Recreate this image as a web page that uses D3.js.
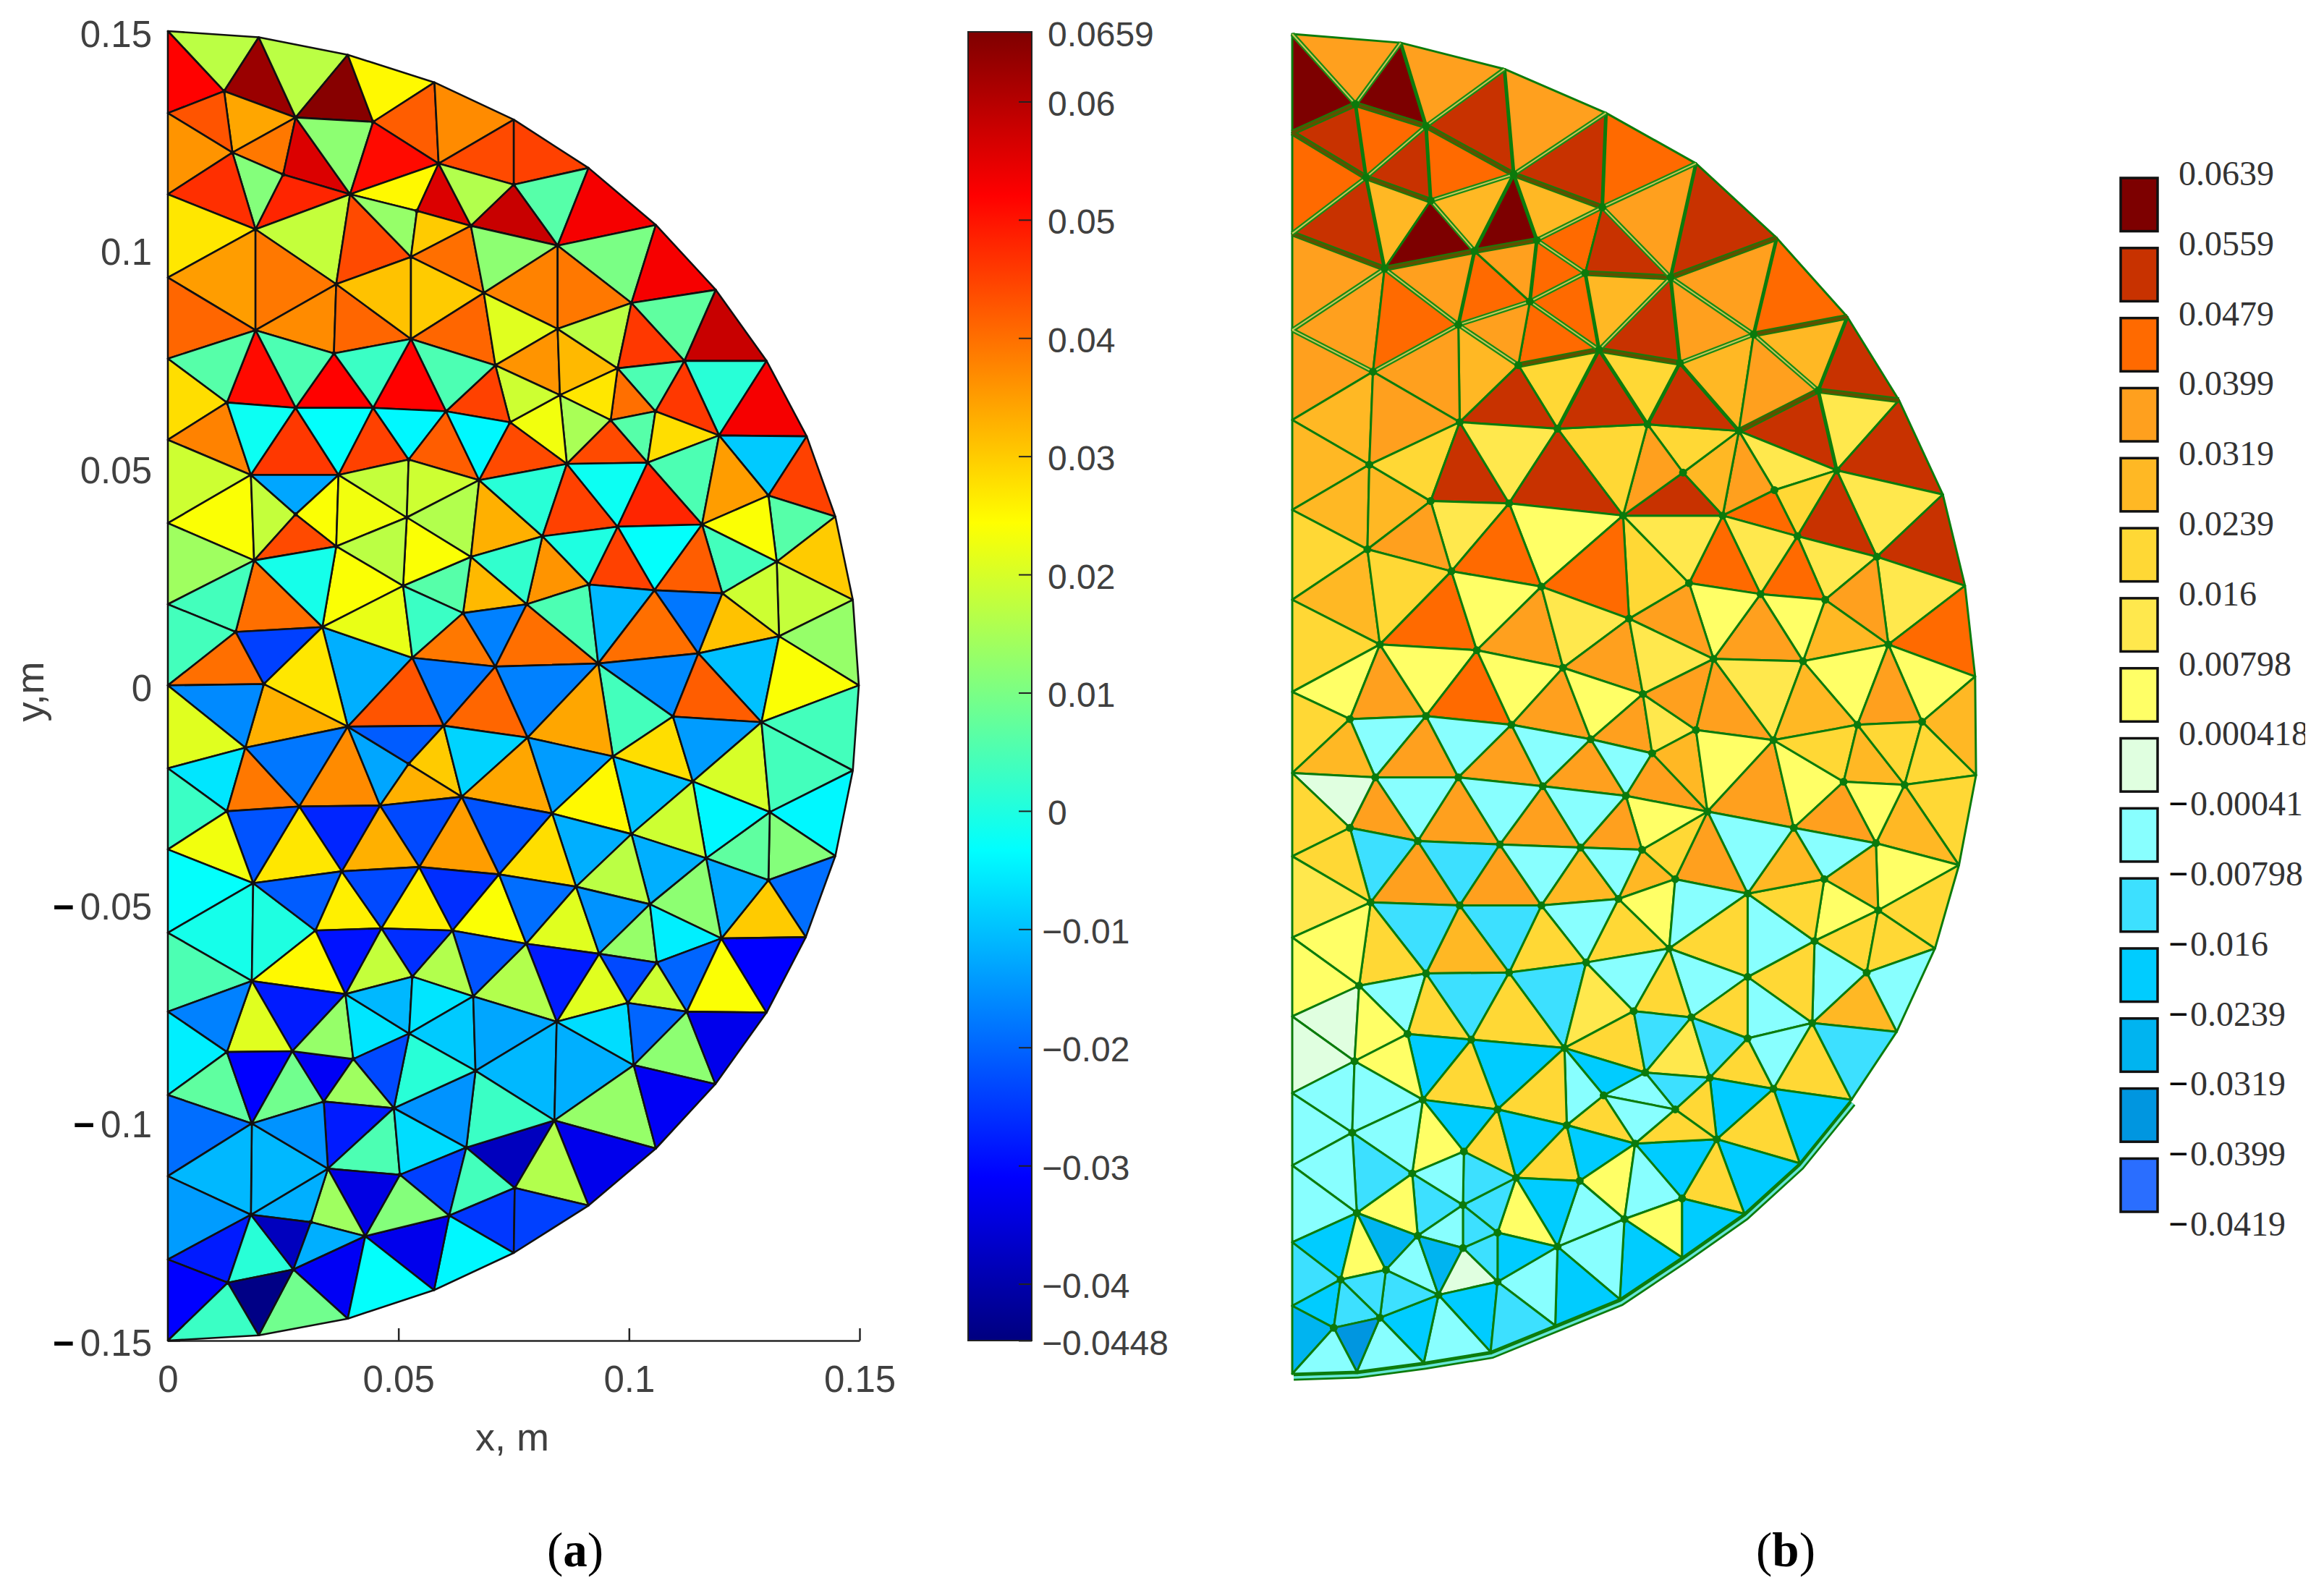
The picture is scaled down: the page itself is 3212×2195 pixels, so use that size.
<!DOCTYPE html>
<html>
<head>
<meta charset="utf-8">
<script src="https://cdn.jsdelivr.net/npm/d3@7"></script>
<style>
body { margin: 0; background: #fff; }
text { font-family: "Liberation Sans", Arial, sans-serif; }
</style>
</head>
<body>
<script>
// node positions are in tenths of a mm
var nodesA = {
	L0:[0,1492],L1:[0,1305],L2:[0,1120],L3:[0,930],L4:[0,745],L5:[0,560],L6:[0,370],L7:[0,185],L8:[0,0],
	L9:[0,-189],L10:[0,-374],L11:[0,-564],L12:[0,-744],L13:[0,-934],L14:[0,-1119],L15:[0,-1309],L16:[0,-1494],
	R1:[197,1478],R2:[390,1438],R3:[578,1375],R4:[750,1290],R5:[912,1180],R6:[1058,1050],R7:[1188,902],R8:[1298,740],
	R9:[1385,568],R10:[1447,385],R11:[1485,195],R12:[1498,0],R13:[1485,-194],R14:[1447,-389],R15:[1383,-574],R16:[1298,-746],
	R17:[1187,-909],R18:[1058,-1056],R19:[912,-1186],R20:[750,-1294],R21:[577,-1379],R22:[390,-1444],R23:[197,-1482],
	A1:[122,1355],A2:[277,1295],A3:[445,1285],A4:[140,1215],A5:[250,1165],A6:[587,1190],A7:[395,1120],A8:[750,1142],
	A9:[540,1082],A10:[657,1048],A11:[845,1003],A12:[190,1040],A13:[527,977],A14:[365,915],A15:[685,895],A16:[1005,872],
	A17:[190,810],A18:[527,790],A19:[845,813],A20:[360,757],A21:[710,730],A22:[1120,740],A23:[975,723],A24:[128,645],
	A25:[277,633],A26:[445,633],A27:[603,625],A28:[850,662],A29:[742,600],A30:[960,605],A31:[1057,625],A32:[1195,570],
	A33:[180,480],A34:[370,480],A35:[522,515],A36:[675,468],A37:[865,505],A38:[1040,508],A39:[277,390],A40:[518,383],
	A41:[1302,433],A42:[812,340],A43:[975,362],A44:[1158,367],A45:[187,285],A46:[365,317],A47:[657,293],A48:[1320,282],
	A49:[510,227],A50:[913,230],A51:[1055,217],A52:[1202,210],A53:[147,122],A54:[335,133],A55:[640,165],A56:[778,185],
	A57:[1325,112],A58:[530,63],A59:[710,43],A60:[933,50],A61:[1150,73],A62:[208,3],
	B1:[390,-94],B2:[598,-92],B3:[780,-119],B4:[965,-162],B5:[1095,-71],B6:[1287,-84],B7:[168,-142],B8:[522,-179],
	B9:[637,-254],B10:[1138,-219],B11:[128,-287],B12:[285,-276],B13:[460,-274],B14:[833,-292],B15:[1005,-339],B16:[1305,-289],
	B17:[185,-451],B18:[377,-424],B19:[545,-414],B20:[718,-431],B21:[885,-459],B22:[1167,-394],B23:[1302,-444],B24:[1045,-499],
	B25:[320,-559],B26:[463,-554],B27:[617,-559],B28:[777,-589],B29:[935,-612],B30:[1060,-632],B31:[1200,-577],B32:[182,-674],
	B33:[530,-664],B34:[385,-704],B35:[662,-709],B36:[843,-767],B37:[997,-724],B38:[1125,-744],B39:[523,-794],B40:[128,-836],
	B41:[270,-834],B42:[402,-852],B43:[667,-879],B44:[1010,-866],B45:[338,-949],B46:[490,-964],B47:[182,-999],B48:[838,-992],
	B49:[647,-1054],B50:[347,-1102],B51:[503,-1116],B52:[752,-1146],B53:[610,-1209],B54:[180,-1207],B55:[310,-1224],B56:[428,-1256],
	B57:[272,-1332],B58:[130,-1362]
};

// three node ids and the cell value
var trisA = [
	"L0 R1 A1 .017","L0 A1 L1 .052","R1 A2 A1 .063","R1 R2 A2 .017","R2 A3 A2 .065","R2 R3 A3 .025","R3 A6 A3 .042","R3 R4 A6 .037",
	"R4 A8 A6 .044","R4 R5 A8 .045","R5 A11 A8 .006","R5 R6 A11 .053","R6 A16 A11 .010","R6 R7 A16 .053","R7 A22 A16 .007","R7 R8 A22 .058",
	"R8 A32 A22 .001","R8 R9 A32 .053","R9 A41 A32 -.009","R9 R10 A41 .045","R10 A48 A41 .006","R10 R11 A48 .030","R11 A57 A48 .018","R11 R12 A57 .013",
	"A1 A2 A4 .034","L1 A1 A4 .043","L1 A4 L2 .036","A2 A5 A4 .039","A2 A7 A5 .056","A2 A3 A7 .012","A3 A6 A7 .051","A6 A9 A7 .025",
	"A6 A10 A9 .056","A6 A8 A10 .016","A8 A11 A10 .058","A4 A5 A12 .011","L2 A4 A12 .047","A5 A7 A12 .048","L2 A12 L3 .027","A12 A7 A14 .018",
	"A7 A13 A14 .044","A7 A9 A13 .013","A9 A10 A13 .030","A10 A15 A13 .040","A10 A11 A15 .012","A11 A19 A15 .038","A11 A16 A19 .039",
	"L3 A12 A17 .035","A12 A14 A17 .039","L3 A17 L4 .041","A17 A14 A20 .037","A14 A18 A20 .041","A14 A13 A18 .031","A13 A15 A18 .030",
	"A15 A21 A18 .041","A15 A19 A21 .021","A19 A28 A21 .036","A19 A23 A28 .032","A19 A16 A23 .017","A16 A22 A23 .046","A22 A31 A23 .005","A22 A32 A31 .046",
	"A23 A31 A30 .040","A23 A30 A28 .027","A28 A30 A37 .015","A28 A37 A29 .023","A21 A28 A29 .019","A21 A29 A27 .045","A18 A21 A27 .005","A18 A27 A26 .052",
	"A20 A18 A26 .003","A20 A26 A25 .052","A17 A20 A25 .005","A17 A25 A24 .051","L4 A17 A24 .006","L4 A24 L5 .028","L5 A24 A33 .038","A24 A25 A33 -.002",
	"A25 A34 A33 .046","A25 A26 A34 -.003","A26 A35 A34 .045","A26 A27 A35 -.004","A27 A36 A35 .042","A27 A29 A36 -.004","A29 A37 A36 .044",
	"A30 A38 A37 .044","A30 A31 A38 .006","A31 A32 A38 .028","A32 A44 A38 .005","A32 A41 A44 .035","A41 A48 A44 .024","A44 A48 A52 .004","A48 A57 A52 .019",
	"A52 A57 A61 .031","A61 A57 B6 -.010","A57 R12 B6 .024","B6 R12 R13 .004","L5 A33 L6 .019","L6 A33 A45 .024","A33 A39 A45 .018","A33 A34 A39 -.013",
	"A34 A46 A39 .024","A39 A46 A45 .044","A34 A40 A46 .023","A34 A35 A40 .018","A35 A36 A40 .019","A36 A47 A40 .016","A36 A42 A47 .033","A36 A37 A42 .001",
	"A37 A43 A42 .045","A37 A38 A43 -.002","A38 A44 A43 .048","A43 A44 A51 -.003","A44 A52 A51 .042","A43 A51 A50 .045","A42 A43 A50 .000","A42 A50 A56 .036",
	"A47 A42 A56 .002","A47 A56 A55 .032","A49 A47 A55 .006","A40 A47 A49 .024","A46 A40 A49 .017","A46 A49 A54 .024","A45 A46 A54 -.001","A45 A54 A53 .040",
	"L6 A45 L7 .014","L7 A45 A53 .004","L7 A53 L8 .004","L8 A53 A62 .040","A53 A54 A62 -.024","A54 A58 B1 -.012","A54 B1 A62 .027","A49 A58 A54 .022",
	"A49 A55 A58 .003","A55 A59 A58 .039","A55 A56 A59 -.017","A56 A60 A59 .040","A56 A50 A60 .005","A50 A51 A60 -.011","A51 A61 A60 .040","A51 A52 A61 -.018",
	"A60 A61 B5 -.016","A60 B5 B4 .004","A61 B6 B5 .042","A58 A59 B2 -.018","A58 B2 B1 .043","A59 B3 B2 .041","A59 A60 B3 -.017","A60 B4 B3 .034",
	"A62 B1 B7 .033","L8 A62 B7 -.016","L8 B7 L9 .021","L9 B7 B11 -.006","L9 B11 L10 .003","B7 B12 B11 .039","B7 B1 B12 -.018","B1 B13 B12 .037",
	"B1 B8 B13 -.013","B1 B2 B8 -.021","B2 B9 B8 .030","B8 B9 B13 .033","B2 B3 B9 -.008","B3 B14 B9 .034","B3 B4 B14 -.014","B4 B15 B14 .025",
	"B4 B10 B15 -.010","B4 B5 B10 .028","B5 B6 B10 -.014","B6 B16 B10 .020","B6 R13 B16 .004","R13 R14 B16 -.004","B16 R14 B23 .011","B16 B23 B22 .007",
	"B10 B16 B22 -.004","B10 B22 B15 .019","R14 R15 B23 -.019","B23 R15 B31 .030","B22 B23 B31 -.013","B22 B31 B24 .012","B15 B22 B24 -.012","B14 B15 B21 -.012",
	"B15 B24 B21 .017","B14 B21 B20 .028","B9 B14 B20 -.022","B9 B20 B19 .035","B13 B9 B19 -.023","B13 B19 B18 .033","B12 B13 B18 -.027","B12 B18 B17 .027",
	"B11 B12 B17 -.022","L10 B11 B17 .023","L10 B17 L11 -.003","L11 B17 B32 -.001","L11 B32 L12 .005","B17 B25 B32 .000","B17 B18 B25 -.021","B18 B26 B25 .026",
	"B18 B19 B26 -.023","B19 B27 B26 .026","B19 B20 B27 -.026","B20 B28 B27 .024","B20 B21 B28 -.019","B21 B29 B28 .021","B21 B24 B29 -.015","B24 B30 B29 .013",
	"B24 B31 B30 -.005","B31 B38 B30 -.020","B31 R16 B38 .024","B31 R15 R16 -.031","B30 B38 B37 .019","B29 B30 B37 -.023","B29 B37 B36 .021","B28 B29 B36 -.028",
	"B28 B36 B35 .016","B27 B28 B35 -.022","B27 B35 B33 .016","B26 B27 B33 -.026","B26 B33 B34 .018","B25 B26 B34 -.029","B25 B34 B32 .025","B32 B34 B41 -.028",
	"B32 B41 B40 .021","L12 B32 B40 -.017","L12 B40 L13 -.005","L13 B40 B47 .007","B40 B41 B47 -.031","B41 B45 B47 .009","B41 B42 B45 -.032","B41 B34 B42 .013",
	"B34 B39 B42 -.006","B34 B33 B39 -.011","B33 B35 B39 -.006","B35 B43 B39 -.009","B35 B36 B43 -.013","B36 B48 B43 -.011","B36 B44 B48 -.012","B36 B37 B44 -.007",
	"B37 B38 B44 -.020","B38 R17 B44 .012","B38 R16 R17 -.033","B44 R18 B48 .013","B44 R17 R18 -.032","B48 R18 R19 -.033","B48 R19 B52 .016","B49 B48 B52 -.038",
	"B43 B48 B49 .003","B46 B43 B49 -.015","B39 B43 B46 .001","B42 B39 B46 -.023","B42 B46 B45 .014","B45 B46 B50 -.028","B46 B51 B50 .005","B46 B49 B51 -.007",
	"B49 B53 B51 -.024","B49 B52 B53 .004","B52 R20 B53 -.025","B52 R19 R20 -.024","B53 R20 R21 -.004","B53 R21 B56 -.033","B51 B53 B56 .011","B50 B51 B56 -.034",
	"B50 B56 B55 .014","B50 B55 B54 -.012","B47 B50 B54 -.011","B47 B45 B50 -.015","L13 B47 L14 -.019","L14 B47 B54 -.011","L14 B54 L15 -.014","L15 B54 B58 -.028",
	"B54 B57 B58 .001","B54 B55 B57 -.038","B55 B56 B57 -.012","B56 R22 B57 -.032","B56 R21 R22 -.003","B57 R22 R23 .009","B58 B57 R23 -.044","L15 B58 L16 -.031",
	"L16 B58 R23 .003"
];

var nodesB = {
	P0:[0,1532],P1:[0,1307],P2:[0,1077],P3:[0,857],P4:[0,652],P5:[0,447],P6:[0,242],P7:[0,32],P8:[0,-153],
	P9:[0,-343],P10:[0,-528],P11:[0,-708],P12:[0,-883],P13:[0,-1048],P14:[0,-1223],P15:[0,-1368],P16:[0,-1523],
	Q1:[235,1512],Q2:[460,1452],Q3:[680,1352],Q4:[875,1237],Q5:[1050,1067],Q6:[1203,887],Q7:[1315,697],Q8:[1410,482],
	Q9:[1458,274],Q10:[1480,67],Q11:[1482,-158],Q12:[1445,-363],Q13:[1393,-553],Q14:[1310,-743],Q15:[1212,-898],Q16:[1100,-1043],
	Q17:[980,-1158],Q18:[845,-1258],Q19:[710,-1353],Q20:[570,-1413],Q21:[430,-1473],Q22:[285,-1498],Q23:[140,-1518],
	C1:[137,1372],C2:[290,1322],C3:[480,1212],C4:[160,1205],C5:[300,1152],C6:[672,1137],C7:[395,1037],C8:[530,1062],
	C9:[200,997],C10:[820,977],C11:[635,987],C12:[515,922],C13:[360,869],C14:[1000,847],C15:[665,812],C16:[175,762],
	C17:[840,782],C18:[490,777],C19:[1140,719],C20:[363,647],C21:[575,632],C22:[770,642],C23:[968,627],C25:[167,550],
	C26:[847,532],C27:[1180,537],C28:[300,467],C29:[470,462],C30:[717,434],C31:[933,434],C32:[1045,492],C33:[1095,387],
	C34:[163,357],C35:[345,307],C36:[1267,340],C37:[540,272],C38:[860,280],C39:[1015,255],C40:[730,199],C41:[1155,242],
	C42:[190,140],C43:[400,127],C44:[1292,140],C45:[913,107],C46:[1107,102],C47:[587,87],C48:[760,27],
	D1:[125,-30],D2:[290,-23],D3:[475,-43],D4:[647,-76],D5:[780,-108],D6:[875,-55],D7:[1043,-78],D8:[1225,-43],
	D9:[1365,-36],D10:[180,-163],D11:[360,-163],D12:[543,-183],D13:[723,-205],D14:[1195,-173],D15:[1327,-180],D16:[125,-278],
	D17:[900,-241],D18:[1087,-278],D19:[272,-308],D20:[450,-316],D21:[625,-323],D22:[758,-328],D23:[1265,-313],D24:[830,-395],
	D25:[1153,-395],D26:[170,-448],D27:[363,-455],D28:[540,-455],D29:[707,-440],D30:[987,-428],D31:[1270,-466],D32:[817,-553],
	D33:[1132,-536],D34:[290,-610],D35:[470,-608],D36:[637,-585],D37:[987,-618],D38:[145,-638],D39:[1245,-608],D40:[740,-696],
	D41:[865,-710],D42:[250,-748],D43:[1127,-723],D44:[987,-758],D45:[388,-761],D46:[590,-780],D47:[135,-810],D48:[765,-836],
	D49:[905,-848],D50:[1043,-873],D51:[283,-898],D52:[675,-888],D53:[830,-920],D54:[445,-920],D55:[595,-956],D56:[743,-998],
	D57:[920,-988],D58:[130,-973],D59:[372,-1016],D60:[260,-1066],D61:[485,-1076],D62:[623,-1083],D63:[845,-1123],D64:[140,-1156],
	D65:[370,-1138],D66:[720,-1170],D67:[445,-1201],D68:[272,-1208],D69:[575,-1233],D70:[370,-1236],D71:[105,-1308],D72:[203,-1286],
	D73:[317,-1343],D74:[445,-1313],D75:[190,-1395],D76:[90,-1418]
};

var trisB = [
	"P0 Q1 C1 .036","P0 C1 P1 .060","Q1 C2 C1 .060","Q1 Q2 C2 .036","Q2 C3 C2 .052","Q2 Q3 C3 .036","Q3 C6 C3 .052","Q3 Q4 C6 .044",
	"Q4 C10 C6 .036","Q4 Q5 C10 .052","Q5 C14 C10 .036","Q5 Q6 C14 .044","Q6 C19 C14 .028","Q6 Q7 C19 .052","Q7 C27 C19 .012","Q7 Q8 C27 .052",
	"Q8 C36 C27 .012","Q8 Q9 C36 .052","Q9 C44 C36 .012","Q9 Q10 C44 .044","Q10 C44 D9 .004","Q10 Q11 D9 .028",
	"P1 C1 C4 .052","C1 C2 C4 .044","C2 C5 C4 .052","C2 C3 C5 .044","C3 C7 C5 .028","C3 C8 C7 .060","C3 C6 C8 .028","P1 C4 P2 .044",
	"P2 C4 C9 .052","C4 C5 C9 .028","C5 C7 C9 .060","P2 C9 P3 .036","P3 C9 C16 .036","C9 C13 C16 .044","C9 C7 C13 .036","C7 C12 C13 .044",
	"C7 C8 C12 .036","C8 C11 C12 .044","C8 C6 C11 .044","C6 C10 C11 .052","C11 C15 C12 .044","C11 C10 C15 .028","C10 C17 C15 .052","C10 C14 C17 .036",
	"C14 C23 C17 .028","C14 C19 C23 .036","C19 C27 C23 .052","C23 C27 C32 .012","C23 C32 C31 .036","C23 C31 C26 .028","C23 C26 C22 .020",
	"C27 C33 C32 .020","C32 C33 C31 .044","C27 C36 C33 .052","C33 C36 C41 .012","C36 C44 C41 .036","C41 C44 C46 .028","C33 C41 C39 .044","C31 C33 C39 .012",
	"C31 C39 C38 .044","C39 C41 C46 .004","C39 C46 C45 .036","C38 C39 C45 .004","C38 C45 C40 .036","C30 C38 C40 .020","C30 C31 C38 .012","C30 C26 C31 .052",
	"C22 C26 C30 .036","C21 C22 C30 .020","C15 C17 C22 .020","C17 C23 C22 .052","C15 C22 C21 .052","C18 C15 C21 .020","C12 C15 C18 .044","C13 C12 C18 .036",
	"C13 C18 C20 .028","C18 C21 C20 .052","C16 C13 C20 .036","P3 C16 P4 .036","P4 C16 C25 .028","C16 C20 C25 .036","P4 C25 P5 .028","P5 C25 C34 .028",
	"C25 C28 C34 .028","C25 C20 C28 .020","C20 C29 C28 .052","C20 C21 C29 .012","C21 C30 C29 .052","C29 C30 C37 .004","C30 C40 C37 .044","C28 C29 C35 .012",
	"C29 C37 C35 .044","C28 C35 C34 .036","P5 C34 P6 .020","P6 C34 C42 .028","C34 C35 C42 .020","P6 C42 P7 .020","C35 C43 C42 .044","C35 C37 C43 .004",
	"C37 C47 C43 .036","C37 C40 C47 .012","C40 C48 C47 .036","C40 C45 C48 .012","C44 D8 C46 .004","C44 D9 D8 .036",
	"P7 C42 D1 .004","P7 D1 P8 .020","C42 D2 D1 .036","C42 C43 D2 .004","C43 D3 D2 .044","C43 C47 D3 .004","C47 D4 D3 .036","C47 C48 D4 .004",
	"C48 D5 D4 .036","C48 D6 D5 .012","C48 C45 D6 .036","C45 D7 D6 .036","C45 C46 D7 .012","C46 D8 D7 .028","D1 D2 D10 -.004","D2 D11 D10 .036",
	"D2 D3 D11 -.004","D3 D12 D11 .036","D3 D4 D12 -.004","D4 D13 D12 .036","D4 D5 D13 -.004","D5 D17 D13 .036","D5 D6 D17 .028","D6 D7 D17 .004",
	"D7 D18 D17 .036","D7 D14 D18 .004","D7 D8 D14 .020","D8 D15 D14 .028","D8 D9 D15 .020","D9 Q11 D15 .020","Q11 Q12 D15 .020","D15 Q12 D23 .028",
	"D14 D15 D23 .004","D14 D23 D18 .036","D18 D23 D25 -.004","D23 Q12 D31 .004","Q12 Q13 D31 .020","D25 D23 D31 .028","D25 D31 D33 .004","D31 D39 D33 .020",
	"D31 Q13 D39 .020","Q13 Q14 D39 -.004","D39 Q14 D43 .028","D33 D39 D43 -.004","D37 D33 D43 .020","D37 D43 D44 -.004","D30 D33 D37 -.004","D30 D25 D33 .020",
	"D18 D25 D30 .028","D17 D18 D30 -.004","D24 D17 D30 .036","D22 D17 D24 .020","D13 D17 D22 .004","D21 D13 D22 .036","D12 D13 D21 -.004","D12 D21 D20 .036",
	"D11 D12 D20 -.004","D11 D20 D19 .036","D10 D11 D19 -.004","D10 D19 D16 .036","P8 D1 D10 .028","P8 D10 D16 .000","P8 D16 P9 .020","D16 D19 D26 -.012",
	"P9 D16 D26 .020","P9 D26 P10 .012","D19 D27 D26 .036","D19 D20 D27 -.012","D20 D28 D27 .036","D20 D21 D28 -.004","D21 D29 D28 .028","D21 D22 D29 -.004",
	"D22 D24 D29 .028","D24 D32 D29 .004","D24 D30 D32 -.004","D30 D37 D32 .020","D32 D37 D41 -.004","D37 D44 D41 .020","D29 D32 D36 .020","D28 D29 D36 -.004",
	"D28 D36 D35 .020","D27 D28 D35 -.012","D27 D35 D34 .028","D26 D27 D34 -.012","D26 D34 D38 .020","P10 D26 D38 .004","P10 D38 P11 .004","P11 D38 D47 .000",
	"P11 D47 P12 .000","D38 D34 D42 -.004","D38 D42 D47 .004","D34 D45 D42 .020","D34 D35 D45 -.012","D35 D46 D45 .020","D35 D36 D46 -.012","D36 D40 D46 .012",
	"D36 D32 D40 -.004","D32 D41 D40 .020","D40 D48 D46 .020","D40 D41 D48 -.012","D41 D49 D48 .012","D41 D44 D49 -.012","D44 D50 D49 .020","D44 D43 D50 -.004",
	"D43 Q15 D50 .020","D43 Q14 Q15 -.012","D50 Q15 Q16 -.020","D50 Q16 D57 .020","D49 D50 D57 -.020","D57 Q16 Q17 -.020","D57 Q17 D63 .020","D56 D57 D63 -.020",
	"D53 D49 D57 .020","D53 D57 D56 .020","D48 D49 D53 -.012","D48 D53 D52 -.004","D52 D53 D56 -.004","D52 D56 D55 .020","D46 D48 D52 -.020","D46 D52 D55 -.004",
	"D45 D46 D54 -.020","D46 D55 D54 .020","D42 D45 D51 -.020","D45 D54 D51 .020","D42 D51 D47 .004","P12 D47 D58 -.004","D47 D51 D58 -.004","D51 D54 D59 -.020",
	"D51 D59 D60 .004","D58 D51 D60 -.004","D54 D61 D59 .020","D54 D55 D61 -.020","D55 D62 D61 .020","D55 D56 D62 -.020","D56 D66 D62 .004","D56 D63 D66 -.004",
	"D63 Q18 D66 .004","D63 Q17 Q18 -.020","D66 Q18 Q19 -.020","D66 Q19 D69 -.004","D62 D66 D69 -.004","D61 D62 D69 -.020","D61 D69 D67 .004","D69 Q19 Q20 -.020",
	"D69 Q20 D74 -.004","D67 D69 D74 -.020","D70 D67 D74 -.012","D65 D61 D67 -.012","D59 D61 D65 -.012","D60 D59 D65 -.004","D60 D65 D68 -.012","D65 D67 D70 -.012",
	"D65 D70 D68 -.004","D64 D60 D68 .004","D58 D60 D64 -.012","P12 D58 P13 -.004","P13 D58 D64 -.004","P13 D64 P14 -.004","P14 D64 D71 -.020","D64 D72 D71 .004",
	"D64 D68 D72 -.028","D68 D73 D72 -.004","D68 D70 D73 -.028","D70 D74 D73 .000","D73 D74 Q21 -.020","D74 Q20 Q21 -.012","D73 Q21 Q22 -.004","D75 D73 Q22 -.020",
	"D75 Q22 Q23 -.004","D72 D73 D75 -.012","D71 D72 D75 -.012","P14 D71 P15 -.012","P15 D71 D76 -.020","D71 D75 D76 -.012","P15 D76 P16 -.028","D76 D75 Q23 -.036",
	"D76 Q23 P16 -.004"
];

// edges of panel b that print as double lines, olive bands or heavy lines
var doubleEdges = ["P0 C1","Q1 C1","Q2 C2","Q3 C3","Q4 C6","C2 C4","C3 C5","P2 C4","C5 C7","C6 C8","C8 C11","C6 C10","C10 C14","C14 C19",
	"C9 C13","C13 C12","C12 C11","C12 C15","P3 C9","P3 C16","C16 C13","C17 C14","C10 C15","C13 C18"];
var oliveEdges = ["P1 C1","P1 C4","C1 C2","C2 C3","C3 C6","C4 C5","P2 C9","C9 C7","C7 C8","C11 C10","C10 Q5","C15 C17","C14 Q6","C19 Q7","C19 C23","C18 C15"];
var heavyEdges = ["Q1 C2","Q2 C3","Q3 C6","Q4 C10","Q5 C14","Q6 C19","C1 C4","C2 C5","C4 C9","C3 C7","C3 C8","C10 C17","C15 C21","C15 C22","C17 C22","C17 C23",
	"C8 C12","C11 C15","C19 C27","C7 C13"];
var outerArc = ["Q15","Q16","Q17","Q18","Q19","Q20","Q21","Q22","Q23","P16"];

var axisTicks = [0, 0.05, 0.1, 0.15, -0.05, -0.1, -0.15];
var barTicks = [0.0659, 0.06, 0.05, 0.04, 0.03, 0.02, 0.01, 0, -0.01, -0.02, -0.03, -0.04, -0.0448];
var jetStops = ["#00007f", "#0000ff", "#00ffff", "#ffff00", "#ff0000", "#7f0000"];
var jetPos = [0, 0.125, 0.375, 0.625, 0.875, 1];
var legendLabels = ["0.0639","0.0559","0.0479","0.0399","0.0319","0.0239","0.016","0.00798","0.000418",
	"-0.00041","-0.00798","-0.016","-0.0239","-0.0319","-0.0399","-0.0419"];
var legendColors = ["#7d0000","#c83200","#ff6a00","#ffa01e","#ffb824","#ffd835","#ffe84d","#ffff66","#e0ffe0",
	"#88ffff","#3de0ff","#00ccff","#00b4f0","#0096e0","#2a6eff"];

var svg = d3.select("body").append("svg")
	.attr("width", 3212)
	.attr("height", 2195);

var barMin = -0.0448, barMax = 0.0659;
var jet = d3.scaleLinear()
	.domain(jetPos.map(function(t){ return barMin + t * (barMax - barMin); }))
	.range(jetStops)
	.clamp(true);

//thresholds run low to high, the legend runs high to low
var level = d3.scaleThreshold()
	.domain(legendLabels.slice(1, -1).map(Number).reverse())
	.range(legendColors.slice().reverse());

var line = d3.line().curve(d3.curveLinearClosed);

function drawMesh(cls, nodes, tris, xs, ys, color, stroke, width, dot){
	var g = svg.append("g").attr("class", cls);
	g.selectAll("path")
		.data(tris.map(function(s){ return s.split(" "); }))
		.join("path")
		.attr("d", function(d){
			return line(d.slice(0, 3).map(function(id){
				return [xs(nodes[id][0]), ys(nodes[id][1])];
			}));
		})
		.style("fill", function(d){ return color(+d[3]); })
		.style("stroke", stroke)
		.style("stroke-width", width)
		.style("stroke-linejoin", "round");
	return g;
}

function drawDots(g, nodes, xs, ys, fill, r){
	g.append("g").selectAll("circle")
		.data(Object.keys(nodes).filter(function(id){ return /^[A-D]/.test(id); }))
		.join("circle")
		.attr("cx", function(id){ return xs(nodes[id][0]); })
		.attr("cy", function(id){ return ys(nodes[id][1]); })
		.attr("r", r)
		.style("fill", fill);
}

// ---- panel a
var x = d3.scaleLinear().domain([0, 0.15]).range([232, 1188]);
var y = d3.scaleLinear().domain([0.15, -0.15]).range([44, 1853]);
var meshAx = d3.scaleLinear().domain([0, 1498]).range([232, 1187]);
var meshAy = d3.scaleLinear().domain([1492, -1494]).range([43, 1853]);

var fmt = function(d){ return d == 0 ? "0" : String(d); };

function boldMinus(g){
	g.selectAll(".tick text").each(function(d){
		if (d < 0){
			var t = d3.select(this).text("");
			t.append("tspan").style("font-weight", "bold").style("fill", "#000").text("\u2212");
			t.append("tspan").attr("dx", 8).text(String(-d));
		}
	});
}

var xAxis = svg.append("g")
	.attr("class", "axis")
	.attr("transform", "translate(0,1853)")
	.call(d3.axisBottom(x).tickValues(axisTicks.filter(function(d){ return d >= 0; })).tickFormat(fmt).tickSizeInner(-17).tickSizeOuter(0).tickPadding(35));

var yAxis = svg.append("g")
	.attr("class", "axis")
	.attr("transform", "translate(232,0)")
	.call(d3.axisLeft(y).tickValues(axisTicks).tickFormat(fmt).tickSizeInner(-17).tickSizeOuter(0).tickPadding(22))
	.call(boldMinus);
yAxis.selectAll("text").attr("dy", "20px");

svg.selectAll(".axis text").style("font-size", "51px").style("fill", "#404040");
svg.selectAll(".axis line, .axis path").style("stroke", "#262626").style("stroke-width", 2.5);

var meshA = drawMesh("meshA", nodesA, trisA, meshAx, meshAy, jet, "#111", 2.6);
drawDots(meshA, nodesA, meshAx, meshAy, "#111", 3);

svg.append("text")
	.attr("x", 708).attr("y", 2005)
	.attr("text-anchor", "middle")
	.style("font-size", "54px").style("fill", "#404040")
	.text("x, m");

svg.append("text")
	.attr("transform", "translate(60,956) rotate(-90)")
	.attr("text-anchor", "middle")
	.style("font-size", "54px").style("fill", "#404040")
	.text("y,m");

// colour bar
var barY = d3.scaleLinear().domain([barMax, barMin]).range([44, 1853]);
var grad = svg.append("defs").append("linearGradient")
	.attr("id", "jetBar")
	.attr("x1", 0).attr("y1", 1).attr("x2", 0).attr("y2", 0);
grad.selectAll("stop")
	.data(jetPos)
	.join("stop")
	.attr("offset", function(d){ return d; })
	.attr("stop-color", function(d, i){ return jetStops[i]; });

svg.append("rect")
	.attr("class", "colorbar")
	.attr("x", 1338).attr("y", 44)
	.attr("width", 88).attr("height", 1809)
	.style("fill", "url(#jetBar)")
	.style("stroke", "#222")
	.style("stroke-width", 2);

var barAxis = svg.append("g")
	.attr("class", "barAxis")
	.attr("transform", "translate(1426,0)")
	.call(d3.axisRight(barY).tickValues(barTicks).tickFormat(function(d){ return String(d).replace("-", "\u2212"); }).tickSizeInner(-18).tickSizeOuter(0).tickPadding(22));
barAxis.select(".domain").remove();
barAxis.selectAll("line").style("stroke", "#222").style("stroke-width", 2);
barAxis.selectAll("text")
	.attr("dx", function(d){ return d < 0 ? -8 : 0; })
	.attr("dy", "19px")
	.style("font-size", "48px").style("fill", "#404040");

// ---- panel b
var meshBx = d3.scaleLinear().domain([0, 1485]).range([1786, 2733]);
var meshBy = d3.scaleLinear().domain([1532, -1523]).range([47, 1899]);
var plainLine = d3.line();

var meshB = drawMesh("meshB", nodesB, trisB, meshBx, meshBy, level, "#0c7c0c", 3);

function edgePath(s){
	return plainLine(s.split(" ").map(function(id){
		return [meshBx(nodesB[id][0]), meshBy(nodesB[id][1])];
	}));
}

function drawEdges(edges, color, width){
	meshB.append("g").selectAll("path")
		.data(edges)
		.join("path")
		.attr("d", edgePath)
		.style("fill", "none")
		.style("stroke", color)
		.style("stroke-width", width);
}

drawEdges(heavyEdges, "#0c7c0c", 5);
drawEdges(oliveEdges, "#1c7a0a", 8);
drawEdges(oliveEdges, "#5f5000", 4);
drawEdges(doubleEdges, "#1a8a14", 6.5);
drawEdges(doubleEdges, "#c9c85a", 2);

// the lower arc prints as a double line a little outside the mesh
meshB.append("g")
	.attr("transform", "translate(2,5)")
	.selectAll("path")
	.data([["#0c7c0c", 9], ["#66e6d8", 3.5]])
	.join("path")
	.attr("d", edgePath(outerArc.join(" ")))
	.style("fill", "none")
	.style("stroke", function(d){ return d[0]; })
	.style("stroke-width", function(d){ return d[1]; });

drawDots(meshB, nodesB, meshBx, meshBy, "#0b7a0b", 5.5);

// legend
var band = d3.scaleBand()
	.domain(d3.range(legendColors.length))
	.range([246, 1675])
	.paddingInner(0.24);

svg.append("g")
	.attr("class", "legendSwatches")
	.selectAll("rect")
	.data(legendColors)
	.join("rect")
	.attr("x", 2931)
	.attr("y", function(d, i){ return band(i); })
	.attr("width", 51)
	.attr("height", band.bandwidth())
	.style("fill", function(d){ return d; })
	.style("stroke", "#111")
	.style("stroke-width", 3.5);

var labelY = d3.scalePoint()
	.domain(d3.range(legendLabels.length))
	.range([256, 1708]);

svg.append("clipPath").attr("id", "legendClip")
	.append("rect").attr("x", 2980).attr("y", 200).attr("width", 206).attr("height", 1540);

var legendText = svg.append("g")
	.attr("class", "legendLabels")
	.attr("clip-path", "url(#legendClip)")
	.selectAll("text")
	.data(legendLabels)
	.join("text")
	.attr("y", function(d, i){ return labelY(i); })
	.style("font-family", "'Liberation Serif', serif")
	.style("font-size", "48px")
	.style("fill", "#333");

legendText.append("tspan")
	.attr("x", 2997)
	.style("fill", "#000")
	.style("font-weight", "bold")
	.text(function(d){ return d[0] == "-" ? "\u2212" : ""; });
legendText.append("tspan")
	.attr("x", function(d){ return d[0] == "-" ? 3027 : 3011; })
	.text(function(d){ return d.replace("-", ""); });

// panel captions
var captions = [["a", 795], ["b", 2468]];
var cap = svg.selectAll(".caption")
	.data(captions)
	.join("text")
	.attr("class", "caption")
	.attr("x", function(d){ return d[1]; })
	.attr("y", 2165)
	.attr("text-anchor", "middle")
	.style("font-family", "'Liberation Serif', serif")
	.style("font-size", "67px")
	.style("fill", "#000");
cap.append("tspan").text("(");
cap.append("tspan").style("font-weight", "bold").text(function(d){ return d[0]; });
cap.append("tspan").text(")");
</script>
</body>
</html>
